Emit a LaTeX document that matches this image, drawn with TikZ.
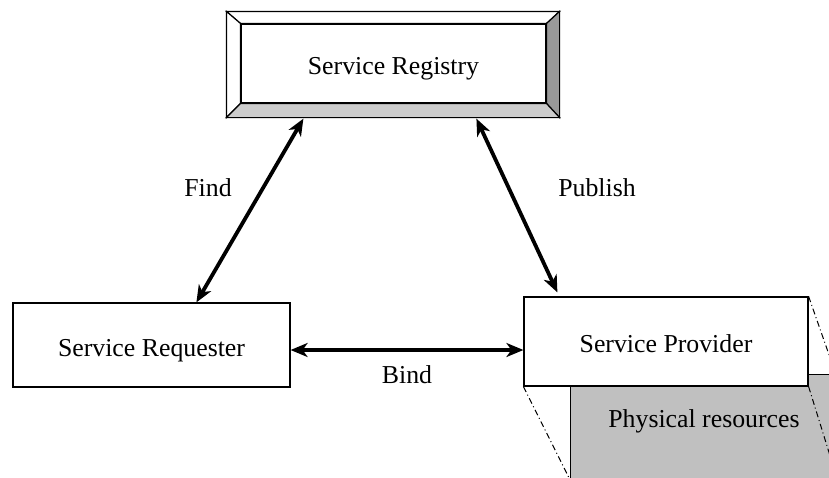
\documentclass[tikz,border=0pt]{standalone}
\usepackage{fontspec}
\setmainfont{Liberation Serif}
\usetikzlibrary{arrows.meta}
\definecolor{bevdark}{HTML}{999999}
\definecolor{bevlight}{HTML}{CCCCCC}
\definecolor{resgray}{HTML}{C0C0C0}
\tikzset{
  box/.style={draw, line width=1.2pt, fill=white, inner sep=0pt, text height=22pt, text depth=0pt, font=\fontsize{25.8}{30}\selectfont},
  lbl/.style={inner sep=0pt, anchor=base, font=\fontsize{25.8}{30}\selectfont},
  face/.style={draw, line width=1.2pt, line join=miter},
  conn/.style={line width=3.8pt, {Stealth[length=17pt,width=14pt,inset=5pt]}-{Stealth[length=17pt,width=14pt,inset=5pt]}},
  proj/.style={line width=1pt, dash pattern=on 6pt off 3pt on 1pt off 3pt}
}
\begin{document}
\begin{tikzpicture}[x=1pt,y=-1pt]
\useasboundingbox (0,0) rectangle (829,477);
\clip (0,0) rectangle (829,477);
% physical resources (behind provider)
\node[draw, line width=1.2pt, fill=resgray, anchor=north west, minimum width=300pt, minimum height=150pt, inner sep=0pt] (phys) at (570,374) {};
\node[lbl] (physt) at (704,427) {Physical resources};
% registry
\node[box, minimum width=305pt, minimum height=79pt] (reg) at (393.5,63.5) {Service Registry};
\coordinate (onw) at ([shift={(-14,-12)}]reg.north west);
\coordinate (one) at ([shift={(13,-12)}]reg.north east);
\coordinate (ose) at ([shift={(13,14)}]reg.south east);
\coordinate (osw) at ([shift={(-14,14)}]reg.south west);
\filldraw[face, fill=white] (onw) -- (one) -- (reg.north east) -- (reg.north west) -- cycle;
\filldraw[face, fill=white] (onw) -- (reg.north west) -- (reg.south west) -- (osw) -- cycle;
\filldraw[face, fill=bevdark] (one) -- (ose) -- (reg.south east) -- (reg.north east) -- cycle;
\filldraw[face, fill=bevlight] (osw) -- (reg.south west) -- (reg.south east) -- (ose) -- cycle;
\draw[line width=1.2pt] (reg.north west) rectangle (reg.south east);
% requester and provider
\node[box, minimum width=277pt, minimum height=84pt] (req) at (151.5,345) {Service Requester};
\node[box, minimum width=284pt, minimum height=89pt] (prov) at (666,341.5) {Service Provider};
% projection lines
\coordinate (p1) at ([shift={(50,100)}]prov.south west);
\coordinate (p2) at ([shift={(35,100)}]prov.north east);
\coordinate (p3) at ([shift={(31,100)}]prov.south east);
\draw[proj] (prov.south west) -- (p1);
\draw[proj] (prov.north east) -- (p2);
\draw[proj] (prov.south east) -- (p3);
% connectors
\coordinate (rf) at ([shift={(77,1)}]osw);
\coordinate (rp) at ([shift={(250,1)}]osw);
\draw[conn] (rf) -- ([xshift=184pt]req.north west);
\draw[conn] (rp) -- ([xshift=34pt,yshift=4pt]prov.north west);
\draw[conn] ([yshift=-5pt]req.east) -- ([yshift=-5pt]req.east -| prov.west);
% labels
\node[lbl] (find) at (208,196) {Find};
\node[lbl] (pub) at (597,196) {Publish};
\node[lbl] (bind) at (407,383) {Bind};
\end{tikzpicture}
\end{document}
